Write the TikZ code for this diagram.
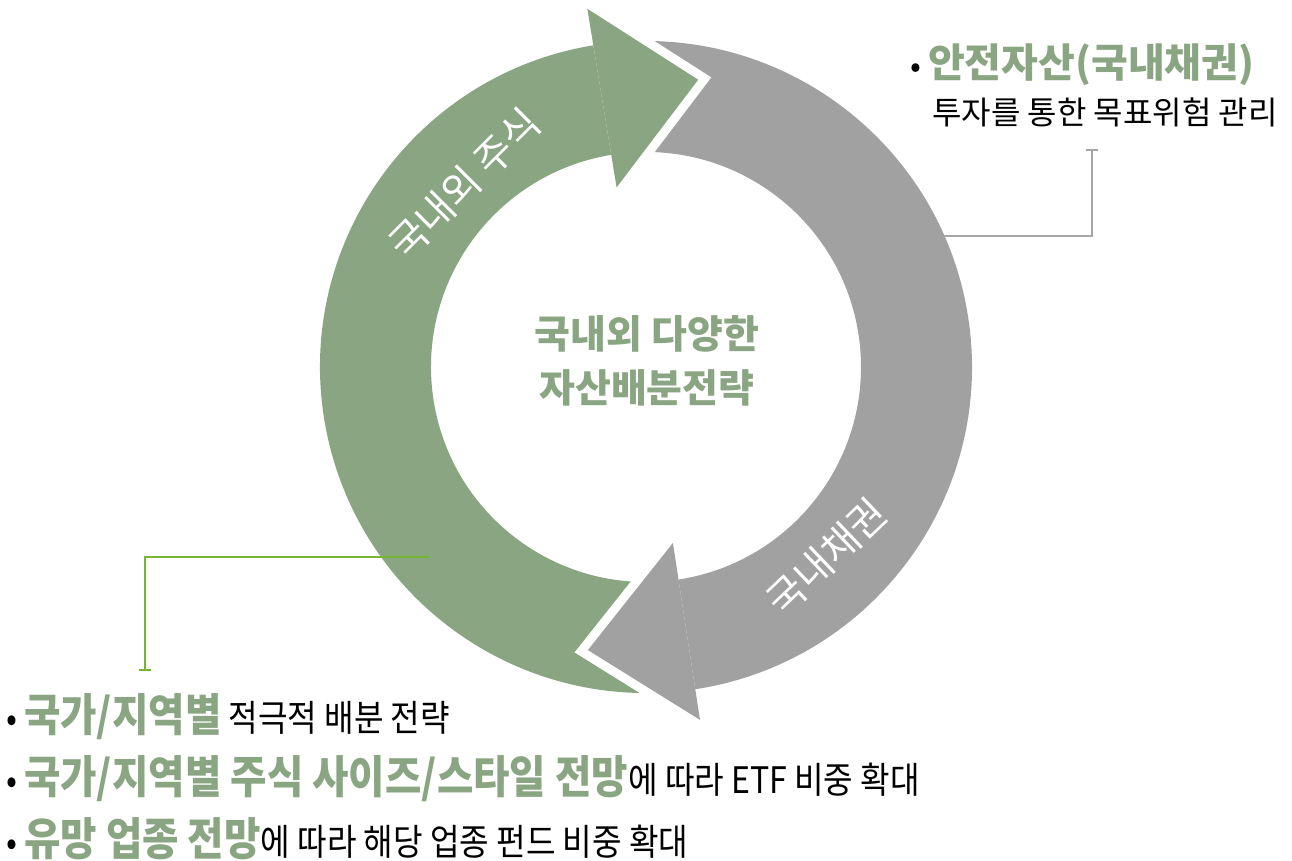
\documentclass[tikz,border=0pt]{standalone}
\usepackage{fontspec}
\setmainfont{Noto Sans CJK KR}
\usepackage{tikz}
\usetikzlibrary{calc}
\definecolor{armgreen}{RGB}{138,165,130}
\definecolor{armgray}{RGB}{160,161,160}
\definecolor{leadgray}{RGB}{166,166,166}
\definecolor{leadgreen}{RGB}{118,182,52}
\tikzstyle{gap}=[draw=white,line width=18pt,line join=miter]
\tikzstyle{arclabel}=[text=white,inner sep=0pt,font=\fontsize{40}{40}\selectfont]
\tikzstyle{leader}=[line width=2.5pt]
\tikzstyle{note}=[anchor=base west,inner sep=0pt]
\tikzstyle{eqnote}=[note,xscale=0.88,font=\fontsize{36.5}{36.5}\selectfont]
\newcommand{\hl}[1]{\textcolor{armgreen}{\bfseries #1}}
\newcommand{\hlbig}[1]{\textcolor{armgreen}{\bfseries\fontsize{45}{45}\selectfont #1}}

\begin{document}
\begin{tikzpicture}[x=1pt,y=1pt]
\useasboundingbox (-646,-494) rectangle (646,367);

% shafts first, heads on top with a white rim
\fill[armgreen] (99.3:326) arc[start angle=99.3,end angle=276,radius=326]
  -- (276:215) arc[start angle=276,end angle=99.3,radius=215] -- cycle;
\fill[armgray] (-81.3:326) arc[start angle=-81.3,end angle=95,radius=326]
  -- (95:215) arc[start angle=95,end angle=-81.3,radius=215] -- cycle;

\coordinate (gtip) at (79.7:292);
\coordinate (gout) at (99.3:363);
\coordinate (gin) at (99.3:182);
\draw[gap] (gout) -- (gtip) -- (gin);
\fill[armgreen] (gout) -- (gtip) -- (gin) -- cycle;

\coordinate (ytip) at (-101.6:289);
\coordinate (yout) at (-81.3:357);
\coordinate (yin) at (-81.3:178);
\draw[gap] (yout) -- (ytip) -- (yin);
\fill[armgray] (yout) -- (ytip) -- (yin) -- cycle;

\node[arclabel,rotate=45] (eqlabel) at (134.7:258) {국내외 주식};
\node[arclabel,rotate=43.6] (bdlabel) at (-46.4:262) {국내채권};

\node[align=center,text=armgreen,font=\bfseries\fontsize{39}{54}\selectfont] (core) at (1,6) {국내외 다양한\\자산배분전략};

% leader to the bond note
\coordinate (yfoot) at (23.7:326);
\coordinate (yend) at (446,217);
\draw[leader,leadgray] (yfoot) -| (yend);
\draw[leader,leadgray] ($(yend)+(-6,0)$) -- ($(yend)+(6,0)$);

% leader to the equity notes
\coordinate (gfoot) at (-216,-190);
\coordinate (gend) at (-501,-303);
\draw[leader,leadgreen] (gfoot) -| (gend);
\draw[leader,leadgreen] ($(gend)+(-6,0)$) -- ($(gend)+(6,0)$);

\node[note,font=\fontsize{32}{32}\selectfont] (safe) at (264,289) {•\hspace{7pt}\hl{\fontsize{40}{40}\selectfont 안전자산(국내채권)}};
\node[note,font=\fontsize{32}{32}\selectfont] (safe2) at (286,242) {투자를 통한 목표위험 관리};

\node[eqnote] (eq1) at (-640,-364) {•\hspace{8pt}\hlbig{국가/지역별} 적극적 배분 전략};
\node[eqnote] (eq2) at (-640,-426) {•\hspace{8pt}\hlbig{국가/지역별 주식 사이즈/스타일 전망}에 따라 ETF 비중 확대};
\node[eqnote] (eq3) at (-640,-488) {•\hspace{8pt}\hlbig{유망 업종 전망}에 따라 해당 업종 펀드 비중 확대};
\end{tikzpicture}
\end{document}
